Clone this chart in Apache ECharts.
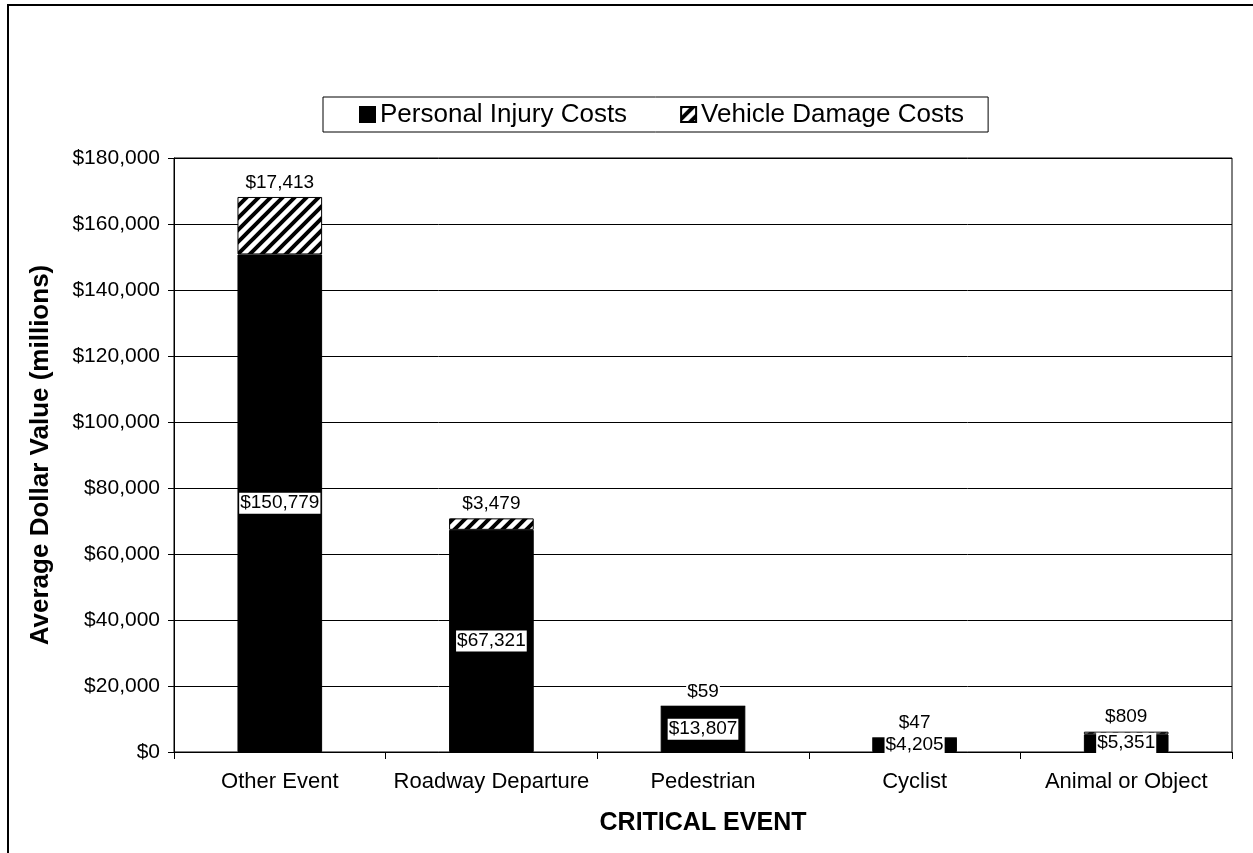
<!DOCTYPE html>
<html><head><meta charset="utf-8">
<script src="https://cdn.jsdelivr.net/npm/echarts@6/dist/echarts.min.js"></script>
<style>html,body{margin:0;padding:0;background:#fff}#c{width:1253px;height:853px}</style>
</head><body><div id="c"></div>
<script>
const categories = ['Other Event', 'Roadway Departure', 'Pedestrian', 'Cyclist', 'Animal or Object'];
const personalInjury = [150779, 67321, 13807, 4205, 5351];
const vehicleDamage = [17413, 3479, 59, 47, 809];
const seriesNames = ['Personal Injury Costs', 'Vehicle Damage Costs'];
const yMin = 0, yMax = 180000, yInterval = 20000;

function money(v) { return '$' + Math.round(v).toLocaleString('en-US'); }

function hatchCanvas() {
  const s = 12;
  const c = document.createElement('canvas');
  c.width = s; c.height = s;
  const g = c.getContext('2d');
  g.fillStyle = '#fff'; g.fillRect(0, 0, s, s);
  g.strokeStyle = '#000'; g.lineWidth = 4; g.lineCap = 'square';
  for (const k of [-s, 0, s]) {
    g.beginPath(); g.moveTo(k - 2, s + 2); g.lineTo(k + s + 2, -2); g.stroke();
  }
  return c;
}
const FONT = 'Liberation Sans, Arial, sans-serif';
const chart = echarts.init(document.getElementById('c'), null, { renderer: 'canvas' });
chart.setOption({
  animation: false,
  backgroundColor: '#fff',
  textStyle: { fontFamily: FONT, color: '#000' },
  graphic: [{
    type: 'rect', shape: { x: 8, y: 5, width: 1400, height: 1000 },
    style: { fill: 'none', stroke: '#000', lineWidth: 2 }, silent: true
  }],
  legend: {
    left: 323, top: 97,
    padding: [4, 24, 4, 36],
    itemGap: 53, itemWidth: 15, itemHeight: 15,
    borderColor: '#000', borderWidth: 1,
    textStyle: { fontSize: 26, fontFamily: FONT, color: '#000', lineHeight: 27 },
    data: [{ name: seriesNames[0], icon: 'rect' }, { name: seriesNames[1], icon: 'rect' }]
  },
  grid: { left: 174, right: 21, top: 158, bottom: 101, show: true, borderColor: '#000', borderWidth: 1, backgroundColor: '#fff' },
  xAxis: {
    type: 'category', data: categories,
    axisLine: { lineStyle: { color: '#000', width: 1 } },
    axisTick: { show: true, length: 7, interval: 0, lineStyle: { color: '#000' } },
    axisLabel: { fontSize: 22, color: '#000', margin: 19, fontFamily: FONT, interval: 0 },
    name: 'CRITICAL EVENT', nameLocation: 'middle', nameGap: 59,
    nameTextStyle: { fontSize: 25, fontWeight: 'bold', color: '#000', fontFamily: FONT }
  },
  yAxis: {
    type: 'value', min: yMin, max: yMax, interval: yInterval,
    axisLine: { show: true, lineStyle: { color: '#000', width: 1 } },
    axisTick: { show: true, length: 6, lineStyle: { color: '#000' } },
    axisLabel: { fontSize: 21, color: '#000', margin: 14, fontFamily: FONT, formatter: money },
    splitLine: { show: true, lineStyle: { color: '#000', width: 1 } },
    name: 'Average Dollar Value (millions)', nameLocation: 'middle', nameGap: 120,
    nameTextStyle: { fontSize: 26, fontWeight: 'bold', color: '#000', fontFamily: FONT }
  },
  series: [
    {
      name: seriesNames[0], type: 'bar', stack: 'total', data: personalInjury, barWidth: '40%',
      itemStyle: { color: '#000', borderColor: '#000', borderWidth: 1 },
      label: {
        show: true, position: 'inside', formatter: p => money(p.value),
        color: '#000', backgroundColor: '#fff', padding: [2, 1, 0, 1], fontSize: 19, fontFamily: FONT
      }
    },
    {
      name: seriesNames[1], type: 'bar', stack: 'total', data: vehicleDamage, barWidth: '40%',
      itemStyle: { color: { image: hatchCanvas(), repeat: 'repeat' }, borderColor: '#000', borderWidth: 1 },
      label: {
        show: true, position: 'top', distance: 5, formatter: p => money(p.value),
        color: '#000', backgroundColor: '#fff', padding: [2, 1, 0, 1], fontSize: 19, fontFamily: FONT
      }
    }
  ]
});
</script></body></html>
